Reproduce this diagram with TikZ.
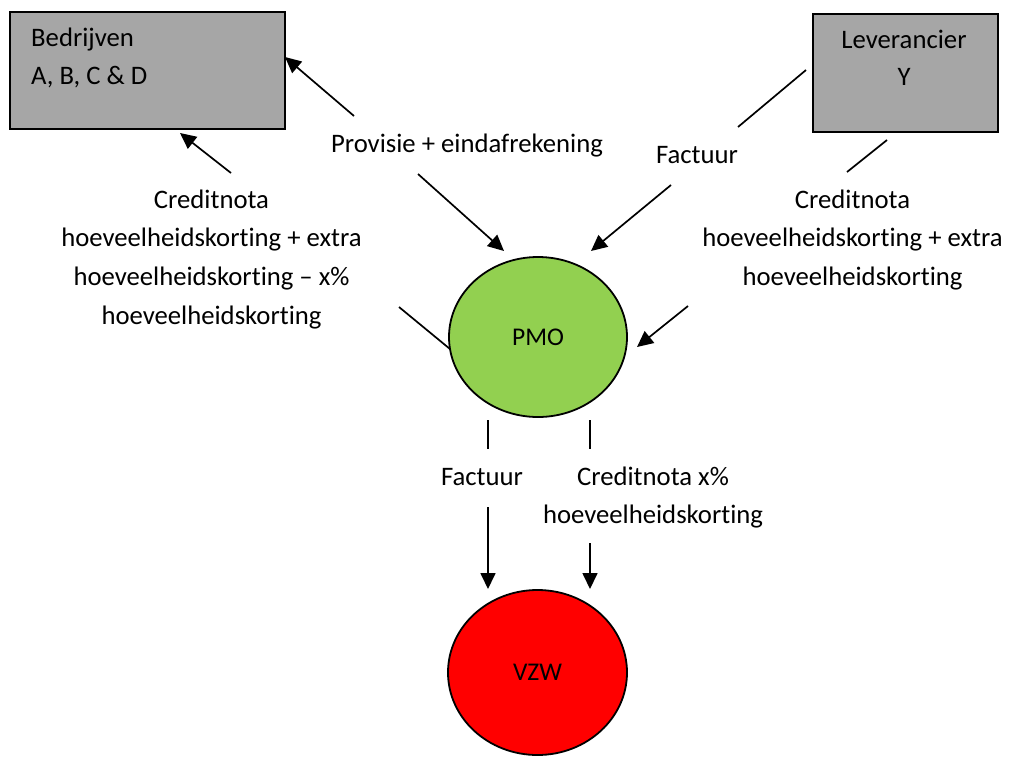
\documentclass[tikz,border=0pt]{standalone}
\usepackage{fontspec}
\setmainfont{Carlito}[Ligatures=CommonOff]
\usetikzlibrary{arrows.meta,shapes.geometric}
\definecolor{boxgray}{HTML}{A6A6A6}
\definecolor{pmogreen}{HTML}{92D050}
\definecolor{vzwred}{HTML}{FF0000}
% stacked lines, first baseline on the anchor
\newcommand{\stackedlines}[2][c]{\begin{tabular}[t]{@{}#1@{}}#2\end{tabular}}
\tikzset{
  txt/.style={inner sep=0pt, anchor=base, font=\fontsize{26.7}{38.7}\selectfont},
  boxtxt/.style={inner sep=0pt, anchor=base, font=\fontsize{26.7}{37.5}\selectfont},
  party/.style={draw=black, line width=1.8pt, fill=boxgray, inner sep=0pt},
  org/.style={ellipse, draw=black, line width=1.8pt, inner sep=0pt, font=\fontsize{25.5}{30}\selectfont},
  flow/.style={line width=1.7pt, -{Triangle[length=16pt,width=15pt]}},
  plain/.style={line width=1.7pt}
}
\begin{document}
\begin{tikzpicture}[x=1pt,y=-1pt]
\useasboundingbox (0,0) rectangle (1009,756);

% parties
\node[party, anchor=north west, minimum width=275pt, minimum height=117pt] (bed) at (9,11) {};
\node[boxtxt, anchor=base west] (bedtxt) at (31,46.7) {\stackedlines[l]{Bedrijven\\A, B, C \& D}};
\node[party, anchor=north west, minimum width=185pt, minimum height=118pt] (lev) at (812,13) {};
\node[boxtxt] (levtxt) at (904,48.3) {\stackedlines{Leverancier\\Y}};

% organisations
\node[org, fill=pmogreen, minimum width=178pt, minimum height=160pt] (pmo) at (538,337) {PMO};
\node[org, fill=vzwred, minimum width=179pt, minimum height=165pt] (vzw) at (537.5,672.5) {VZW};

% labels
\node[txt] (prov) at (467,152) {Provisie + eindafrekening};
\node[txt] (credl) at (211.5,208) {\stackedlines{Creditnota\\hoeveelheidskorting + extra\\hoeveelheidskorting -- x\%\\hoeveelheidskorting}};
\node[txt] (factl) at (697,163) {Factuur};
\node[txt] (credr) at (852.5,208) {\stackedlines{Creditnota\\hoeveelheidskorting + extra\\hoeveelheidskorting}};
\node[txt] (factv) at (482,485) {Factuur};
\node[txt] (credv) at (653,485) {\stackedlines{Creditnota x\%\\hoeveelheidskorting}};

% connector ends
\coordinate (p1) at (354,116);  \coordinate (p1e) at (285,57);
\coordinate (p2) at (418,174);  \coordinate (p2e) at (504,251);
\coordinate (c1) at (399,307);  \coordinate (c1e) at (450,349);
\coordinate (c2) at (231,173);  \coordinate (c2e) at (180,133);
\coordinate (f1) at (806,70);   \coordinate (f1e) at (738,127);
\coordinate (f2) at (671,185);  \coordinate (f2e) at (591,251);
\coordinate (r1) at (887,140);  \coordinate (r1e) at (847,172);
\coordinate (r2) at (688,306);  \coordinate (r2e) at (637,347);
\coordinate (v1) at (488,420);  \coordinate (v1e) at (488,449);
\coordinate (v2) at (488,507);  \coordinate (v2e) at (488,589);
\coordinate (w1) at (590,420);  \coordinate (w1e) at (590,449);
\coordinate (w2) at (590,543);  \coordinate (w2e) at (590,589);

% Provisie + eindafrekening
\draw[flow] (p1) -- (p1e);
\draw[flow] (p2) -- (p2e);
% Creditnota PMO -> Bedrijven
\draw[plain] (c1) -- (c1e);
\draw[flow] (c2) -- (c2e);
% Factuur Leverancier -> PMO
\draw[plain] (f1) -- (f1e);
\draw[flow] (f2) -- (f2e);
% Creditnota Leverancier -> PMO
\draw[plain] (r1) -- (r1e);
\draw[flow] (r2) -- (r2e);
% PMO -> VZW
\draw[plain] (v1) -- (v1e);
\draw[flow] (v2) -- (v2e);
\draw[plain] (w1) -- (w1e);
\draw[flow] (w2) -- (w2e);
\end{tikzpicture}
\end{document}
